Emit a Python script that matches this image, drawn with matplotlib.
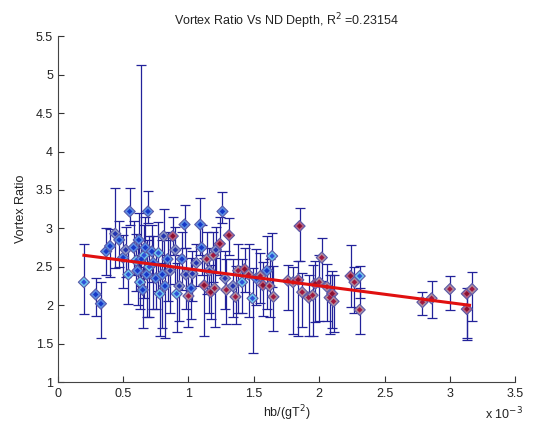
import matplotlib
matplotlib.use('Agg')
import matplotlib.pyplot as plt
from matplotlib.ticker import FormatStrFormatter

plt.rcParams['font.family'] = ['Liberation Sans', 'DejaVu Sans']

# hb/(gT^2) in units of 1e-3, vortex ratio, lower/upper error, colour group
depth = [0.20, 0.29, 0.33, 0.37, 0.40, 0.44, 0.47, 0.50, 0.52, 0.54,
         0.55, 0.58, 0.60, 0.61, 0.62, 0.63, 0.64, 0.65, 0.66, 0.67,
         0.68, 0.69, 0.70, 0.72, 0.73, 0.75, 0.77, 0.78, 0.80, 0.81,
         0.82, 0.84, 0.86, 0.88, 0.90, 0.91, 0.93, 0.95, 0.97, 0.98,
         1.00, 1.02, 1.03, 1.06, 1.09, 1.10, 1.12, 1.14, 1.16, 1.17,
         1.19, 1.20, 1.21, 1.24, 1.26, 1.28, 1.29, 1.31, 1.34, 1.36,
         1.38, 1.41, 1.43, 1.46, 1.49, 1.52, 1.55, 1.57, 1.60, 1.62,
         1.64, 1.65, 1.76, 1.80, 1.84, 1.85, 1.87, 1.92, 1.95, 1.97,
         2.00, 2.02, 2.06, 2.08, 2.10, 2.11, 2.24, 2.27, 2.31, 2.31,
         2.79, 2.86, 3.00, 3.13, 3.13, 3.17]
ratio = [2.30, 2.14, 2.02, 2.70, 2.77, 2.93, 2.85, 2.62, 2.72, 2.40,
         3.22, 2.75, 2.58, 2.45, 2.85, 2.30, 2.60, 2.20, 2.65, 2.75,
         2.40, 3.22, 2.50, 2.70, 2.55, 2.35, 2.68, 2.15, 2.40, 2.90,
         2.25, 2.60, 2.45, 2.90, 2.72, 2.15, 2.25, 2.60, 3.05, 2.40,
         2.12, 2.22, 2.41, 2.55, 3.05, 2.75, 2.26, 2.60, 2.45, 2.17,
         2.65, 2.22, 2.72, 2.80, 3.22, 2.35, 2.20, 2.91, 2.25, 2.11,
         2.45, 2.30, 2.47, 2.40, 2.09, 2.35, 2.38, 2.26, 2.45, 2.25,
         2.64, 2.11, 2.32, 2.30, 2.33, 3.03, 2.17, 2.10, 2.13, 2.28,
         2.30, 2.62, 2.24, 2.10, 2.15, 2.05, 2.38, 2.30, 2.38, 1.94,
         2.04, 2.09, 2.21, 2.15, 1.95, 2.21]
err_lo = [0.42, 0.28, 0.45, 0.30, 0.40, 0.45, 0.35, 0.40, 0.35, 0.38,
          0.17, 0.35, 0.40, 0.45, 0.40, 0.35, 0.35, 0.50, 0.55, 0.40,
          0.55, 0.15, 0.65, 0.40, 0.60, 0.40, 0.50, 0.55, 0.70, 0.50,
          0.67, 0.55, 0.55, 0.25, 0.45, 0.50, 0.45, 0.40, 0.30, 0.45,
          0.40, 0.40, 0.35, 0.30, 0.40, 0.35, 0.66, 0.45, 0.55, 0.35,
          0.35, 0.50, 0.30, 0.40, 0.15, 0.40, 0.45, 0.25, 0.40, 0.35,
          0.55, 0.40, 0.30, 0.55, 0.71, 0.35, 0.35, 0.40, 0.50, 0.40,
          0.40, 0.45, 0.38, 0.68, 0.73, 0.45, 0.45, 0.50, 0.53, 0.50,
          0.50, 0.30, 0.45, 0.48, 0.45, 0.40, 0.40, 0.40, 0.28, 0.32,
          0.17, 0.25, 0.27, 0.57, 0.40, 0.42]
err_hi = [0.50, 0.22, 0.28, 0.30, 0.22, 0.60, 0.25, 0.30, 0.30, 0.35,
          0.30, 0.35, 0.35, 0.40, 0.35, 0.35, 2.52, 0.30, 0.40, 0.40,
          0.45, 0.27, 0.40, 0.35, 0.35, 0.35, 0.40, 0.40, 0.45, 0.35,
          0.40, 0.35, 0.40, 0.25, 0.30, 0.40, 0.40, 0.35, 0.25, 0.35,
          0.35, 0.40, 0.30, 0.25, 0.35, 0.30, 0.35, 0.35, 0.30, 0.35,
          0.30, 0.40, 0.30, 0.35, 0.25, 0.35, 0.40, 0.22, 0.35, 0.40,
          0.35, 0.30, 0.28, 0.40, 0.40, 0.38, 0.30, 0.30, 0.45, 0.35,
          0.30, 0.40, 0.20, 0.20, 0.25, 0.23, 0.25, 0.30, 0.40, 0.30,
          0.35, 0.25, 0.30, 0.30, 0.30, 0.35, 0.40, 0.20, 0.13, 0.28,
          0.13, 0.22, 0.17, 0.08, 0.20, 0.22]
group = [0, 1, 1, 1, 1, 2, 1, 1, 2, 0,
         1, 1, 0, 1, 1, 0, 1, 1, 0, 1,
         1, 1, 0, 1, 1, 1, 0, 0, 1, 2,
         1, 1, 2, 4, 2, 0, 2, 1, 1, 2,
         3, 1, 2, 2, 1, 1, 4, 3, 2, 4,
         3, 3, 2, 4, 1, 2, 3, 4, 2, 3,
         3, 0, 4, 3, 0, 1, 3, 4, 1, 3,
         0, 3, 3, 3, 4, 4, 3, 3, 3, 4,
         3, 3, 3, 3, 4, 3, 4, 3, 0, 3,
         3, 3, 3, 4, 4, 3]

face_colors = ['#70c8ee', '#5b8ee4', '#8e98c8', '#b08c9e', '#b86080']
inner_colors = ['#3050d8', '#1838c8', '#2434b0', '#a01840', '#8c1030']

# least-squares line as drawn
fit_x = [0.20, 3.15]
fit_y = [2.65, 2.00]

fig = plt.figure(figsize=(5.35, 4.26), dpi=100)
ax = fig.add_axes([0.108, 0.103, 0.855, 0.812])

ax.errorbar(depth, ratio, yerr=[err_lo, err_hi], fmt='none',
            ecolor='#22229a', elinewidth=0.9, capsize=3.6, capthick=0.9,
            zorder=2)
ax.scatter(depth, ratio, marker='D', s=32,
           c=[face_colors[g] for g in group], edgecolors='#5a5aa8',
           linewidths=0.8, zorder=3)
ax.scatter(depth, ratio, marker='D', s=8,
           c=[inner_colors[g] for g in group], linewidths=0, zorder=4)
ax.plot(fit_x, fit_y, color='#e01010', lw=2.2, zorder=5)

ax.set_xlim(0, 3.5)
ax.set_ylim(1, 5.5)
ax.set_xticks([0, 0.5, 1, 1.5, 2, 2.5, 3, 3.5])
ax.set_yticks([1, 1.5, 2, 2.5, 3, 3.5, 4, 4.5, 5, 5.5])
ax.xaxis.set_major_formatter(FormatStrFormatter('%g'))
ax.yaxis.set_major_formatter(FormatStrFormatter('%g'))
ax.tick_params(direction='in', length=4, width=0.8, colors='#333333',
               labelsize=9, labelcolor='#222222')
ax.tick_params(axis='x', pad=4)
for side in ['top', 'right']:
    ax.spines[side].set_visible(False)
for side in ['left', 'bottom']:
    ax.spines[side].set_color('#444444')
    ax.spines[side].set_linewidth(0.8)

ax.set_title('Vortex Ratio Vs ND Depth, R$^2$ =0.23154', fontsize=9,
             color='#222222', pad=8)
ax.set_xlabel('hb/(gT$^2$)', fontsize=9, color='#222222', labelpad=3)
ax.set_ylabel('Vortex Ratio', fontsize=9, color='#222222', labelpad=6)
ax.text(0.975, -0.068, 'x 10$^{-3}$', transform=ax.transAxes, fontsize=9,
        color='#222222', ha='center', va='top')

fig.savefig('out.png', dpi=100, facecolor='white')
